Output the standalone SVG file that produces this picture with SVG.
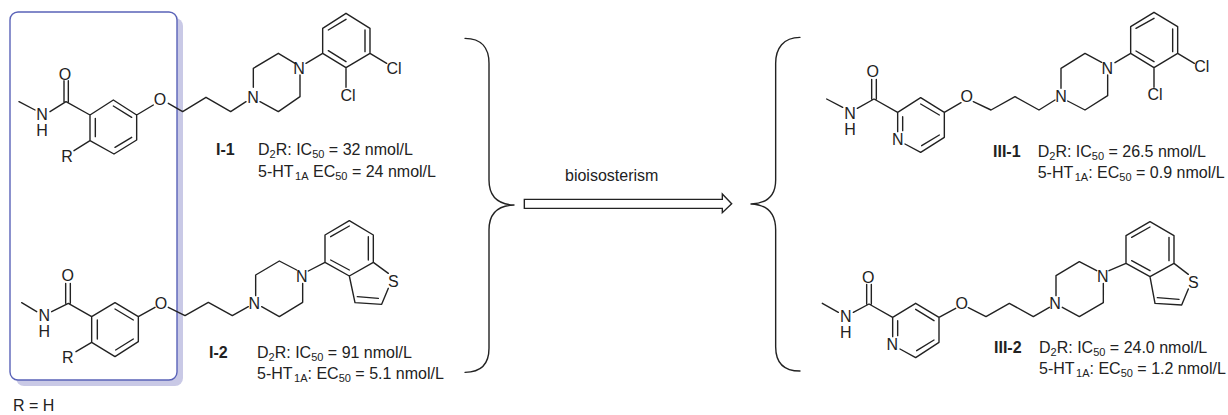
<svg xmlns="http://www.w3.org/2000/svg" width="1228" height="415" viewBox="0 0 1228 415">
<style>
text{font-family:"Liberation Sans",Arial,sans-serif;font-size:16px;fill:#222}
.a{text-anchor:middle;font-size:16px}
.b{font-weight:bold}
.s{font-size:11px}
.bond{fill:none;stroke:#222;stroke-width:4.2;stroke-linejoin:round;stroke-linecap:round}
</style>
<rect width="1228" height="415" fill="#fff"/>
<g id="highlight-box">
<rect x="16" y="18" width="167" height="368" rx="8" fill="#c9c9e6"/>
<rect x="10" y="12" width="167" height="368" rx="8" fill="#fff" stroke="#5a63b8" stroke-width="1.4"/>
</g>
<g id="connectors">
<g transform="translate(450,20) scale(.33333)">
<path class="bond" d="M45 55C95 55 117 85 117 130L117 480C117 525 140 553 192 555C140 557 117 585 117 630L117 985C117 1030 95 1057 45 1057"/>
<path class="bond" d="M1050 52C1000 52 977 85 977 130L977 480C977 525 955 550 903 552C955 554 977 585 977 630L977 980C977 1025 1000 1053 1050 1053"/>
<path class="bond" d="M223 538L817 538L817 522L845 551L817 578L817 565L223 565Z" style="stroke-linejoin:miter"/>
</g>
<text x="565" y="180.7">bioisosterism</text>
</g>
<g id="I-1">
<path class="bond" transform="scale(.33333)" d="M57 305L105 330M150 335L198 305L270 345M192 305L192 242M205 305L205 242M270 345L340 300L410 345L410 420L342 462L270 422ZM286 355L286 410M340 318L395 352M395 412L345 442M270 422L222 452M410 345L460 315M505 310L548 335L618 292L692 335L738 305M780 305L835 335L900 290L900 225M885 190L835 160L760 205L760 262M918 190L968 160M968 160L968 85L1038 40L1110 85L1110 160L1038 203ZM985 90L1038 58M1095 90L1095 155M1038 185L985 152M1110 160L1160 190M1038 203L1038 262"/>
<text class="a" x="42" y="120">N</text><text class="a" x="42" y="136">H</text><text class="a" x="65" y="79.5">O</text><text class="a" x="67" y="161.5">R</text><text class="a" x="160" y="104.5">O</text><text class="a" x="253" y="102.5">N</text><text class="a" x="299" y="73.5">N</text><text class="a" x="394" y="73.5">Cl</text><text class="a" x="348" y="100.5">Cl</text>
<text class="b" x="216" y="155">I-1</text>
<text x="258" y="155">D<tspan class="s" dy="3">2</tspan><tspan dy="-3">R: IC</tspan><tspan class="s" dy="3">50</tspan><tspan dy="-3"> = 32 nmol/L</tspan></text>
<text x="258" y="176.7">5-HT<tspan class="s" dx="1.5" dy="3">1A</tspan><tspan dy="-3"> EC</tspan><tspan class="s" dy="3">50</tspan><tspan dy="-3"> = 24 nmol/L</tspan></text>
</g>
<g id="I-2">
<path class="bond" transform="translate(0,205) scale(.33333)" d="M65 293L110 320M155 320L205 295L275 335M197 295L197 235M211 295L211 235M275 335L345 293L415 335L415 410L345 455L275 412ZM292 345L292 402M345 312L400 345M400 402L347 435M275 412L228 440M415 335L465 307M505 307L555 332L625 292L697 332L745 305M785 305L838 335L908 292L908 235M890 195L838 168L767 210L767 272M925 198L975 172M975 172L975 90L1048 47L1120 90L1120 172L1048 213ZM992 95L1048 63M1105 95L1105 165M1048 195L992 165M1120 172L1165 205M1165 250L1145 298L1065 293L1048 213M1072 275L1135 280"/>
<text class="a" x="44.3" y="320.5">N</text><text class="a" x="44.3" y="336.5">H</text><text class="a" x="67.7" y="281">O</text><text class="a" x="67.7" y="363">R</text><text class="a" x="161" y="309">O</text><text class="a" x="254.3" y="309">N</text><text class="a" x="301.7" y="281.5">N</text><text class="a" x="393.3" y="286.5">S</text>
<text class="b" x="209" y="357.7">I-2</text>
<text x="257" y="357.7">D<tspan class="s" dy="3">2</tspan><tspan dy="-3">R: IC</tspan><tspan class="s" dy="3">50</tspan><tspan dy="-3"> = 91 nmol/L</tspan></text>
<text x="257" y="379">5-HT<tspan class="s" dx="1.5" dy="3">1A</tspan><tspan dy="-3">: EC</tspan><tspan class="s" dy="3">50</tspan><tspan dy="-3"> = 5.1 nmol/L</tspan></text>
<text x="13" y="411">R = H</text>
</g>
<g id="III-1">
<path class="bond" transform="translate(800,0) scale(.33333)" d="M80 297L128 322M172 325L222 297L293 337M215 297L215 238M229 297L229 238M293 337L293 395M308 350L308 392M315 432L362 457L433 412L433 337L362 293L293 337M362 312L418 345M418 405L365 437M433 337L483 308M520 305L573 330L645 290L717 330L765 300M803 303L855 330L923 287L923 225M905 187L855 160L783 205L783 265M945 188L992 160M992 160L992 80L1062 37L1133 80L1133 160L1062 203ZM1008 85L1062 55M1118 87L1118 155M1062 185L1008 153M1133 160L1183 190M1062 203L1062 262"/>
<text class="a" x="850" y="118.5">N</text><text class="a" x="850" y="134.5">H</text><text class="a" x="872.7" y="77">O</text><text class="a" x="897.7" y="145">N</text><text class="a" x="966.7" y="102">O</text><text class="a" x="1061" y="102">N</text><text class="a" x="1107.3" y="74">N</text><text class="a" x="1201.7" y="72">Cl</text><text class="a" x="1155" y="100">Cl</text>
<text class="b" x="993" y="156.7">III-1</text>
<text x="1037.7" y="156.7">D<tspan class="s" dy="3">2</tspan><tspan dy="-3">R: IC</tspan><tspan class="s" dy="3">50</tspan><tspan dy="-3"> = 26.5 nmol/L</tspan></text>
<text x="1037.7" y="177.7">5-HT<tspan class="s" dx="1.5" dy="3">1A</tspan><tspan dy="-3">: EC</tspan><tspan class="s" dy="3">50</tspan><tspan dy="-3"> = 0.9 nmol/L</tspan></text>
</g>
<g id="III-2">
<path class="bond" transform="translate(800,205) scale(.33333)" d="M67 295L115 322M160 322L207 297L278 337M200 297L200 238M214 297L214 238M278 337L278 395M293 347L293 392M300 432L347 458L417 412L417 337L347 295L278 337M347 313L402 347M402 405L350 437M417 337L467 310M505 308L558 335L628 295L700 335L748 307M787 307L838 335L910 293L910 235M890 197L838 170L768 212L768 272M927 197L978 175M978 175L978 92L1050 50L1122 92L1122 175L1050 215ZM995 97L1050 66M1107 97L1107 167M1050 197L995 167M1122 175L1165 208M1165 252L1145 300L1065 295L1050 215M1072 278L1137 283"/>
<text class="a" x="845.7" y="322">N</text><text class="a" x="845.7" y="338">H</text><text class="a" x="868.3" y="283">O</text><text class="a" x="892.3" y="350">N</text><text class="a" x="961.7" y="309">O</text><text class="a" x="1055" y="309">N</text><text class="a" x="1102.7" y="282">N</text><text class="a" x="1193.3" y="288">S</text>
<text class="b" x="994" y="352.7">III-2</text>
<text x="1039" y="352.7">D<tspan class="s" dy="3">2</tspan><tspan dy="-3">R: IC</tspan><tspan class="s" dy="3">50</tspan><tspan dy="-3"> = 24.0 nmol/L</tspan></text>
<text x="1039" y="374">5-HT<tspan class="s" dx="1.5" dy="3">1A</tspan><tspan dy="-3">: EC</tspan><tspan class="s" dy="3">50</tspan><tspan dy="-3"> = 1.2 nmol/L</tspan></text>
</g>
</svg>
